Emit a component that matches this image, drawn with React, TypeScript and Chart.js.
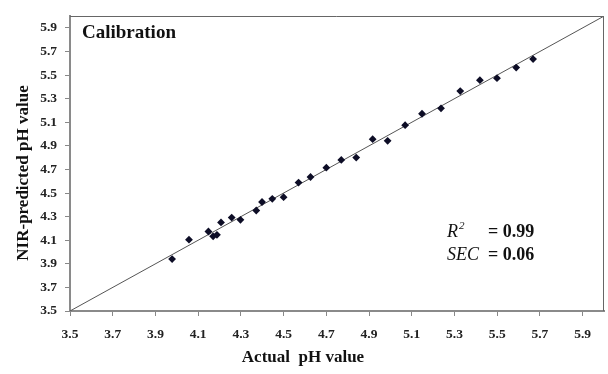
import React, { useEffect, useRef } from "react";
import { Chart, registerables } from "chart.js";

Chart.register(...registerables);

const actualPH = [
  3.978, 4.057, 4.148, 4.17, 4.188, 4.207, 4.257, 4.298, 4.372, 4.399,
  4.447, 4.5, 4.57, 4.626, 4.7, 4.77, 4.84, 4.917, 4.987, 5.069,
  5.148, 5.237, 5.327, 5.419, 5.499, 5.589, 5.668,
];
const predictedPH = [
  3.94, 4.105, 4.174, 4.133, 4.146, 4.251, 4.292, 4.273, 4.352, 4.424,
  4.451, 4.465, 4.589, 4.636, 4.715, 4.781, 4.801, 4.957, 4.943, 5.075,
  5.172, 5.218, 5.364, 5.457, 5.474, 5.564, 5.636,
];
const xTicks = [3.5, 3.7, 3.9, 4.1, 4.3, 4.5, 4.7, 4.9, 5.1, 5.3, 5.5, 5.7, 5.9];
const yTicks = [3.5, 3.7, 3.9, 4.1, 4.3, 4.5, 4.7, 4.9, 5.1, 5.3, 5.5, 5.7, 5.9];
const axisRange = [3.5, 6.0];
const identityLine = [3.5, 6.0];

const titleText = "Calibration";
const xTitle = "Actual  pH value";
const yTitle = "NIR-predicted pH value";
const r2Value = "= 0.99";
const secValue = "= 0.06";

const SERIF = "'Liberation Serif', 'Times New Roman', serif";

const framePlugin = {
  id: "frameAndText",
  afterDatasetsDraw(chart: any) {
    const { ctx, chartArea } = chart;
    const { left, right, top, bottom } = chartArea;
    ctx.save();
    ctx.strokeStyle = "#666";
    ctx.lineWidth = 1;
    ctx.beginPath();
    ctx.moveTo(left, Math.round(top) + 0.5);
    ctx.lineTo(Math.round(right) - 0.5, Math.round(top) + 0.5);
    ctx.lineTo(Math.round(right) - 0.5, bottom);
    ctx.stroke();
    ctx.restore();
  },
  afterDraw(chart: any) {
    const { ctx } = chart;
    ctx.save();
    ctx.fillStyle = "#111";
    ctx.textBaseline = "alphabetic";
    ctx.textAlign = "left";

    ctx.font = `bold 19px ${SERIF}`;
    ctx.fillText(titleText, 82, 38);

    // R^2
    ctx.font = `italic 18px ${SERIF}`;
    ctx.fillText("R", 447, 237);
    const rw = ctx.measureText("R").width;
    ctx.font = `italic 11px ${SERIF}`;
    ctx.fillText("2", 447 + rw + 1, 229);
    ctx.font = `bold 18px ${SERIF}`;
    ctx.fillText(r2Value, 488, 237);

    ctx.font = `italic 18px ${SERIF}`;
    ctx.fillText("SEC", 447, 260);
    ctx.font = `bold 18px ${SERIF}`;
    ctx.fillText(secValue, 488, 260);

    // axis titles
    ctx.font = `bold 17px ${SERIF}`;
    ctx.textAlign = "center";
    ctx.fillText(xTitle, 303, 362);
    ctx.translate(28, 173);
    ctx.rotate(-Math.PI / 2);
    ctx.fillText(yTitle, 0, 0);
    ctx.restore();
  },
};

export default function App() {
  const ref = useRef<HTMLCanvasElement>(null);

  useEffect(() => {
    document.body.style.margin = "0";
    const canvas = ref.current!;
    const tickFont = { family: SERIF, size: 13.5, weight: "bold" as const };
    const chart = new Chart(canvas, {
      type: "scatter",
      data: {
        datasets: [
          {
            type: "line",
            data: identityLine.map((v) => ({ x: v, y: v })),
            borderColor: "#555",
            borderWidth: 1,
            pointRadius: 0,
            fill: false,
            order: 2,
          } as any,
          {
            data: actualPH.map((x, i) => ({ x, y: predictedPH[i] })),
            pointStyle: "rectRot",
            pointRadius: 3.9,
            backgroundColor: "#0d0d26",
            borderColor: "#0d0d26",
            borderWidth: 0,
            order: 1,
          },
        ],
      },
      options: {
        responsive: false,
        animation: false,
        devicePixelRatio: 1,
        layout: { padding: { top: 8, right: 3, left: 0, bottom: 0 } },
        plugins: { legend: { display: false }, tooltip: { enabled: false } },
        scales: {
          x: {
            type: "linear",
            min: axisRange[0],
            max: axisRange[1],
            afterBuildTicks: (s: any) => {
              s.ticks = xTicks.map((v) => ({ value: v }));
            },
            afterFit: (s: any) => {
              s.height = 63;
            },
            ticks: {
              font: tickFont,
              color: "#222",
              padding: 10,
              maxRotation: 0,
              autoSkip: false,
              callback: (v: any) => Number(v).toFixed(1),
            },
            grid: { drawOnChartArea: false, drawTicks: true, tickLength: 5, color: "#888" },
            border: { color: "#8a8a8a", width: 2 },
          },
          y: {
            type: "linear",
            min: axisRange[0],
            max: axisRange[1],
            afterBuildTicks: (s: any) => {
              s.ticks = yTicks.map((v) => ({ value: v }));
            },
            afterFit: (s: any) => {
              s.width = 70;
            },
            ticks: {
              font: tickFont,
              color: "#222",
              padding: 8,
              autoSkip: false,
              callback: (v: any) => Number(v).toFixed(1),
            },
            grid: { drawOnChartArea: false, drawTicks: true, tickLength: 5, color: "#888" },
            border: { color: "#8a8a8a", width: 2 },
          },
        },
      },
      plugins: [framePlugin],
    });
    return () => chart.destroy();
  }, []);

  return (
    <div style={{ position: "absolute", left: 0, top: 0, width: 608, height: 374, background: "#fff" }}>
      <canvas ref={ref} width={608} height={374} style={{ display: "block" }} />
    </div>
  );
}
